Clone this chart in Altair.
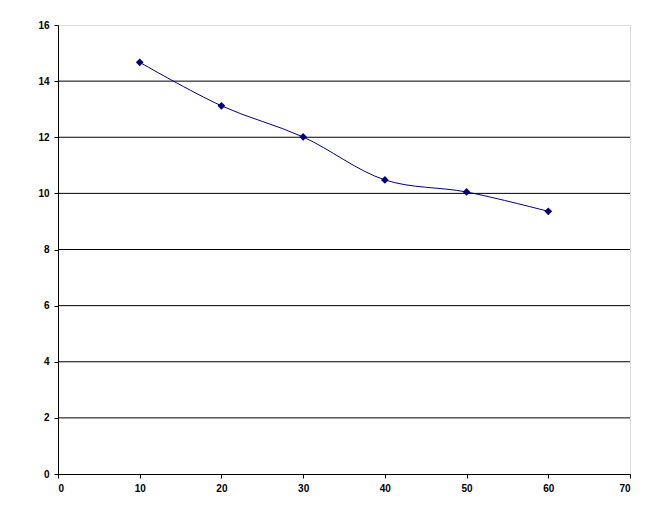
import altair as alt
import pandas as pd

x_vals = [10, 20, 30, 40, 50, 60]
y_vals = [14.67, 13.12, 12.01, 10.48, 10.05, 9.36]
grid_vals = [2, 4, 6, 8, 10, 12, 14]

df = pd.DataFrame({"x": x_vals, "y": y_vals})
gdf = pd.DataFrame({"g": grid_vals})

xscale = alt.Scale(domain=[0, 70], nice=False, zero=True)
yscale = alt.Scale(domain=[0, 16], nice=False)

xaxis = alt.Axis(values=list(range(0, 71, 10)), title=None, grid=False,
                 domainColor="black", tickColor="black", tickSize=4,
                 labelFont="Liberation Sans", labelFontSize=10, labelFontWeight="bold",
                 labelColor="black", labelPadding=5, zindex=1)
yaxis = alt.Axis(values=list(range(0, 17, 2)), title=None, grid=False,
                 domainColor="black", tickColor="black", tickSize=4,
                 labelFont="Liberation Sans", labelFontSize=10, labelFontWeight="bold",
                 labelColor="black", labelPadding=5, zindex=1)

grid = alt.Chart(gdf).mark_rule(color="black", strokeWidth=1).encode(
    y=alt.Y("g:Q", scale=yscale, axis=yaxis)
)

line = alt.Chart(df).mark_line(color="#000080", strokeWidth=1, interpolate="catmull-rom").encode(
    x=alt.X("x:Q", scale=xscale, axis=xaxis),
    y=alt.Y("y:Q", scale=yscale, axis=yaxis),
)

pts = alt.Chart(df).mark_point(shape="diamond", filled=True, color="#000080", size=60, opacity=1).encode(
    x=alt.X("x:Q", scale=xscale),
    y=alt.Y("y:Q", scale=yscale),
)

chart = alt.layer(grid, line, pts).properties(
    width=572, height=449,
    autosize=alt.AutoSizeParams(type="none"),
    padding={"left": 50, "top": 17, "right": 15, "bottom": 30},
).configure_view(stroke="#808080", strokeWidth=1).configure(background="white")

chart.save("out.html", embed_options={"renderer": "svg", "actions": False})
